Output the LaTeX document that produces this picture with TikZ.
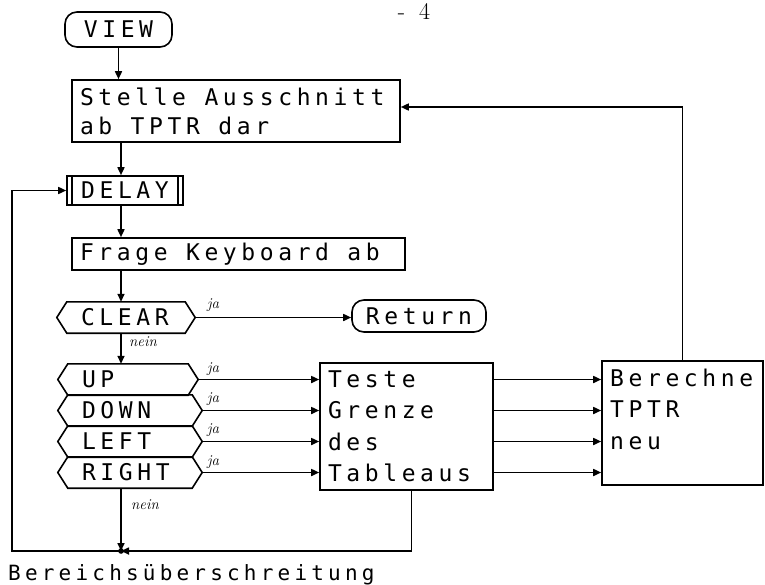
\documentclass[tikz,border=0pt]{standalone}
\usepackage{fontspec}
\usetikzlibrary{arrows.meta}
\newfontfamily\dotf{DejaVu Sans Mono}[LetterSpace=20]
\newcommand\dotfont{\dotf\fontsize{23}{29}\selectfont}
\newcommand\gap{\hspace*{18.45pt}}
\newcommand\hexframe[1]{\draw[ln] ([xshift=10pt]#1.north west) -- ([xshift=-10pt]#1.north east) -- (#1.east) -- ([xshift=-10pt]#1.south east) -- ([xshift=10pt]#1.south west) -- (#1.west) -- cycle;}
\tikzset{
  ln/.style={line width=1.6pt},
  box/.style={draw, ln, rectangle, inner xsep=8pt, inner ysep=0pt, align=left, font=\dotfont},
  term/.style={draw, ln, rectangle, rounded corners=12pt, inner sep=0pt, font=\dotfont},
  hexnode/.style={inner xsep=24pt, inner ysep=0pt, minimum height=31pt, align=left, font=\dotfont},
  arr/.style={ln, -{Triangle[length=8pt,width=7pt]}},
  lbl/.style={font=\itshape\fontsize{15}{15}\selectfont, inner sep=0pt},
  txt/.style={font=\dotfont, inner sep=0pt, align=left}
}
\begin{document}
\begin{tikzpicture}[x=1pt,y=-1pt]
\useasboundingbox (0,0) rectangle (765,584);
\node[font=\fontsize{24}{24}\selectfont, inner sep=0pt, anchor=north] (pagenum) at (414,3) {-\hspace{14pt}4};

\node[term, minimum width=107pt, minimum height=35pt] (view) at (118.5,29.5) {VIEW};
\node[box, text width=312pt, minimum height=62pt] (stelle) at (236,111) {Stelle\gap Ausschnitt\\ab\gap TPTR\gap dar};
\node[draw, ln, minimum width=116pt, minimum height=29pt, inner sep=0pt, font=\dotfont] (delay) at (125,190.5) {DELAY};
\draw[ln] ([xshift=6pt]delay.north west) -- ([xshift=6pt]delay.south west);
\draw[ln] ([xshift=-6pt]delay.north east) -- ([xshift=-6pt]delay.south east);
\node[box, text width=317pt, minimum height=32pt] (frage) at (238.5,254) {Frage\gap Keyboard\gap ab};

\node[hexnode, text width=90pt] (clear) at (126,317.5) {CLEAR};
\hexframe{clear}
\node[term, minimum width=134pt, minimum height=32pt] (ret) at (419,316) {Return};

\node[hexnode, text width=92pt] (up) at (128,379.5) {UP};
\node[hexnode, text width=96pt] (down) at (130,410.5) {DOWN};
\node[hexnode, text width=96pt] (left) at (130,441.5) {LEFT};
\node[hexnode, text width=96pt] (right) at (130,472.5) {RIGHT};
\hexframe{up}
\hexframe{down}
\hexframe{left}
\hexframe{right}

\node[box, text width=157pt, minimum height=127pt, font=\dotf\fontsize{23}{31.5}\selectfont] (teste) at (406.5,426.5) {Teste\\Grenze\\des\\Tableaus};
\node[draw, ln, minimum width=161pt, minimum height=124pt, inner sep=0pt] (ber) at (682.5,423) {};
\node[txt, font=\dotf\fontsize{23}{31.5}\selectfont, anchor=north west] (bertext) at (610,368.5) {Berechne\\TPTR\\neu};

\coordinate (j) at (121,551);
\coordinate (lc) at (12,551);

\draw[arr] (view.south) -- (view.south |- stelle.north);
\draw[arr] (stelle.south -| j) -- (delay.north -| j);
\draw[arr] (delay.south -| j) -- (frage.north -| j);
\draw[arr] (frage.south -| j) -- (clear.north -| j);
\draw[arr] (clear.east) -- (clear.east -| ret.west);
\draw[arr] (clear.south -| j) -- (up.north -| j);
\draw[arr] (right.south -| j) -- (j);
\foreach \h in {up,down,left,right}{
  \draw[arr] (\h.east) -- (\h.east -| teste.west);
  \draw[arr] (teste.east |- \h.east) -- (ber.west |- \h.east);
}
\draw[arr] (ber.north) |- ([yshift=4pt]stelle.east);
\draw[arr] ([xshift=5pt]teste.south) |- (j);
\draw[arr] (j) -- (lc) |- (delay.west);
\fill (j) circle (2.8pt);

\node[lbl] (ja0) at (213,305) {ja};
\node[lbl] (ja1) at (213,369) {ja};
\node[lbl] (ja2) at (213,399) {ja};
\node[lbl] (ja3) at (213,430) {ja};
\node[lbl] (ja4) at (213,462) {ja};
\node[lbl] (nein1) at (143,342) {nein};
\node[lbl] (nein2) at (145,505) {nein};

\node[font=\dotf\fontsize{21}{21}\selectfont, inner sep=0pt, anchor=base west] (bereich) at (8,580) {Bereichsüberschreitung};
\end{tikzpicture}
\end{document}
